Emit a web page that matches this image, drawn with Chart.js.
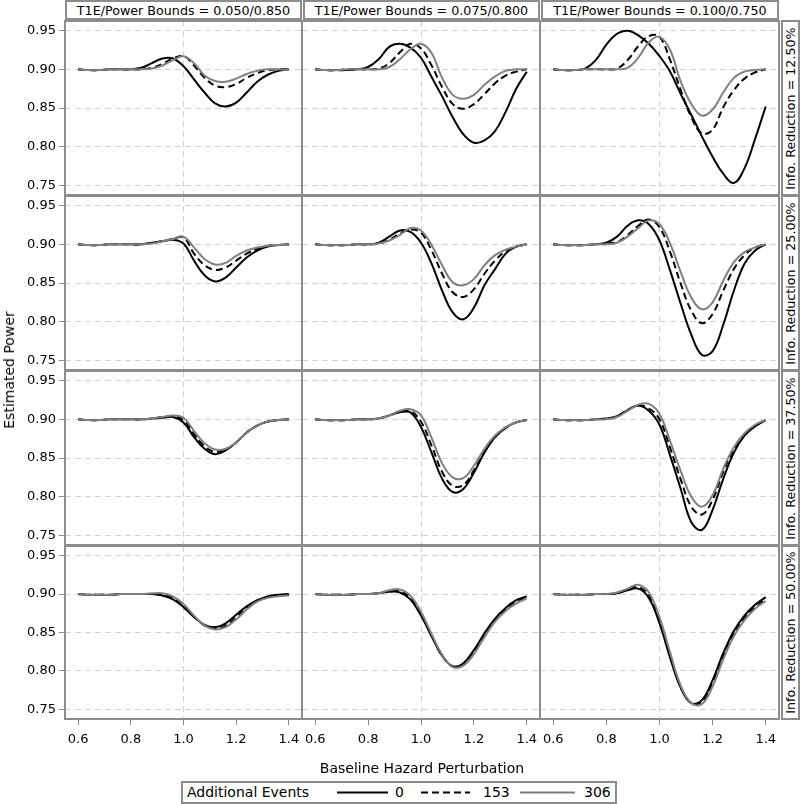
<!DOCTYPE html>
<html><head><meta charset="utf-8">
<script src="https://cdn.jsdelivr.net/npm/chart.js@4.4.1/dist/chart.umd.min.js"></script>
<style>
html,body{margin:0;padding:0;background:#fff;}
#root{position:relative;width:800px;height:804px;overflow:hidden;font-family:"DejaVu Sans",sans-serif;color:#000;}
.strip{position:absolute;box-sizing:border-box;border:2px solid #8c8c8c;background:#fff;font-size:12.7px;display:flex;align-items:center;justify-content:center;white-space:nowrap;overflow:visible;}
.rot{transform:rotate(-90deg);display:block;white-space:nowrap;}
.title{position:absolute;font-size:14px;white-space:nowrap;}
#legend{position:absolute;left:181px;top:781px;width:436px;height:23px;border:2px solid #8c8c8c;box-sizing:border-box;font-size:14px;}
#legend span{position:absolute;top:1px;white-space:nowrap;}
</style></head>
<body><div id="root"></div>
<script>
// ---- data ----
const xs = [0.60,0.64,0.68,0.72,0.76,0.80,0.84,0.88,0.92,0.96,1.00,1.04,1.08,1.12,1.16,1.20,1.24,1.28,1.32,1.36,1.40];
const xTicks = [0.6,0.8,1.0,1.2,1.4];
const yTicks = [0.75,0.80,0.85,0.90,0.95];
const boundLabels = ['T1E/Power Bounds = 0.050/0.850','T1E/Power Bounds = 0.075/0.800','T1E/Power Bounds = 0.100/0.750'];
const reductionLabels = ['Info. Reduction = 12.50%','Info. Reduction = 25.00%','Info. Reduction = 37.50%','Info. Reduction = 50.00%'];
const events = ['0','153','306'];

const r1c1_e0   = [0.900,0.899,0.899,0.900,0.900,0.900,0.902,0.908,0.914,0.914,0.904,0.887,0.870,0.856,0.852,0.857,0.870,0.884,0.893,0.898,0.900];
const r1c1_e153 = [0.900,0.899,0.899,0.900,0.900,0.900,0.900,0.902,0.907,0.914,0.917,0.905,0.889,0.879,0.877,0.881,0.889,0.895,0.899,0.900,0.900];
const r1c1_e306 = [0.900,0.899,0.899,0.900,0.900,0.900,0.900,0.901,0.905,0.912,0.917,0.908,0.892,0.885,0.884,0.888,0.894,0.898,0.900,0.900,0.899];

const r1c2_e0   = [0.900,0.899,0.899,0.899,0.900,0.903,0.913,0.929,0.933,0.928,0.915,0.890,0.865,0.838,0.816,0.805,0.808,0.820,0.845,0.875,0.897];
const r1c2_e153 = [0.900,0.899,0.899,0.900,0.900,0.900,0.901,0.908,0.922,0.933,0.927,0.905,0.877,0.855,0.849,0.855,0.868,0.882,0.892,0.897,0.900];
const r1c2_e306 = [0.900,0.899,0.899,0.900,0.900,0.900,0.900,0.903,0.913,0.926,0.933,0.921,0.889,0.867,0.862,0.867,0.880,0.891,0.898,0.900,0.900];

const r1c3_e0   = [0.900,0.899,0.899,0.901,0.912,0.932,0.946,0.950,0.944,0.933,0.917,0.897,0.868,0.841,0.813,0.787,0.765,0.753,0.772,0.810,0.852];
const r1c3_e153 = [0.900,0.899,0.899,0.900,0.900,0.900,0.901,0.912,0.930,0.943,0.942,0.912,0.873,0.838,0.817,0.822,0.851,0.873,0.888,0.896,0.900];
const r1c3_e306 = [0.900,0.899,0.899,0.900,0.900,0.900,0.900,0.902,0.915,0.935,0.942,0.925,0.884,0.855,0.840,0.848,0.870,0.889,0.897,0.899,0.900];

const r2c1_e0   = [0.900,0.899,0.899,0.900,0.900,0.900,0.900,0.902,0.904,0.906,0.901,0.879,0.860,0.852,0.857,0.870,0.883,0.892,0.897,0.899,0.900];
const r2c1_e153 = [0.900,0.899,0.899,0.900,0.900,0.900,0.900,0.902,0.904,0.907,0.909,0.888,0.873,0.867,0.870,0.879,0.888,0.894,0.898,0.899,0.899];
const r2c1_e306 = [0.900,0.899,0.899,0.900,0.900,0.900,0.900,0.901,0.904,0.907,0.910,0.896,0.881,0.874,0.876,0.885,0.892,0.896,0.898,0.899,0.899];

const r2c2_e0   = [0.900,0.899,0.899,0.899,0.900,0.900,0.902,0.910,0.918,0.916,0.902,0.875,0.840,0.812,0.803,0.818,0.847,0.868,0.888,0.897,0.900];
const r2c2_e153 = [0.900,0.899,0.899,0.899,0.900,0.900,0.901,0.906,0.914,0.919,0.915,0.892,0.862,0.838,0.832,0.842,0.862,0.879,0.891,0.897,0.900];
const r2c2_e306 = [0.900,0.899,0.899,0.899,0.900,0.900,0.901,0.905,0.912,0.921,0.918,0.899,0.873,0.851,0.847,0.855,0.873,0.886,0.893,0.897,0.900];

const r2c3_e0   = [0.900,0.899,0.899,0.899,0.900,0.902,0.910,0.924,0.931,0.926,0.905,0.866,0.823,0.783,0.757,0.762,0.796,0.840,0.875,0.892,0.900];
const r2c3_e153 = [0.900,0.899,0.899,0.899,0.900,0.901,0.903,0.912,0.924,0.932,0.922,0.890,0.849,0.814,0.798,0.810,0.840,0.868,0.886,0.896,0.900];
const r2c3_e306 = [0.900,0.899,0.899,0.899,0.900,0.900,0.902,0.910,0.921,0.931,0.926,0.901,0.864,0.831,0.816,0.825,0.853,0.877,0.890,0.896,0.900];

const r3c1_e0   = [0.900,0.899,0.899,0.900,0.900,0.900,0.900,0.901,0.902,0.903,0.896,0.877,0.862,0.855,0.860,0.870,0.883,0.892,0.897,0.899,0.900];
const r3c1_e153 = [0.900,0.899,0.899,0.900,0.900,0.900,0.900,0.901,0.903,0.904,0.899,0.881,0.865,0.858,0.861,0.870,0.883,0.892,0.897,0.899,0.900];
const r3c1_e306 = [0.900,0.899,0.899,0.900,0.900,0.900,0.900,0.901,0.903,0.905,0.902,0.885,0.869,0.861,0.862,0.870,0.883,0.892,0.897,0.899,0.900];

const r3c2_e0   = [0.900,0.899,0.899,0.899,0.900,0.900,0.901,0.905,0.909,0.909,0.890,0.857,0.823,0.806,0.810,0.831,0.857,0.877,0.889,0.896,0.899];
const r3c2_e153 = [0.900,0.899,0.899,0.899,0.900,0.900,0.901,0.905,0.910,0.911,0.897,0.866,0.832,0.814,0.815,0.834,0.858,0.877,0.889,0.896,0.899];
const r3c2_e306 = [0.900,0.899,0.899,0.899,0.900,0.900,0.901,0.905,0.911,0.913,0.905,0.876,0.843,0.825,0.824,0.840,0.862,0.879,0.890,0.896,0.899];

const r3c3_e0   = [0.900,0.899,0.899,0.899,0.900,0.901,0.904,0.912,0.918,0.911,0.893,0.853,0.810,0.767,0.757,0.783,0.823,0.857,0.879,0.891,0.899];
const r3c3_e153 = [0.900,0.899,0.899,0.899,0.900,0.901,0.904,0.912,0.918,0.914,0.900,0.863,0.822,0.787,0.777,0.796,0.832,0.861,0.880,0.892,0.899];
const r3c3_e306 = [0.900,0.899,0.899,0.899,0.900,0.900,0.903,0.911,0.919,0.920,0.907,0.872,0.833,0.800,0.787,0.802,0.836,0.864,0.882,0.893,0.899];

const r4c1_e0   = [0.900,0.899,0.899,0.899,0.900,0.900,0.900,0.900,0.898,0.893,0.883,0.870,0.860,0.857,0.862,0.873,0.884,0.892,0.897,0.899,0.900];
const r4c1_e153 = [0.900,0.899,0.899,0.899,0.900,0.900,0.900,0.900,0.899,0.895,0.885,0.871,0.859,0.855,0.859,0.870,0.882,0.891,0.896,0.898,0.899];
const r4c1_e306 = [0.900,0.899,0.899,0.899,0.900,0.900,0.900,0.901,0.901,0.897,0.887,0.872,0.859,0.854,0.857,0.867,0.880,0.890,0.895,0.897,0.898];

const r4c2_e0   = [0.900,0.899,0.899,0.899,0.900,0.900,0.901,0.903,0.902,0.893,0.872,0.845,0.820,0.806,0.810,0.827,0.849,0.868,0.882,0.892,0.897];
const r4c2_e153 = [0.900,0.899,0.899,0.899,0.900,0.900,0.901,0.904,0.904,0.895,0.874,0.846,0.820,0.806,0.809,0.825,0.847,0.866,0.880,0.890,0.896];
const r4c2_e306 = [0.900,0.899,0.899,0.899,0.900,0.900,0.901,0.905,0.906,0.898,0.877,0.848,0.821,0.805,0.807,0.822,0.844,0.864,0.878,0.888,0.894];

const r4c3_e0   = [0.900,0.899,0.899,0.899,0.900,0.900,0.901,0.905,0.907,0.895,0.862,0.817,0.778,0.758,0.762,0.788,0.823,0.852,0.872,0.886,0.896];
const r4c3_e153 = [0.900,0.899,0.899,0.899,0.900,0.900,0.901,0.906,0.909,0.898,0.866,0.820,0.779,0.758,0.760,0.785,0.820,0.849,0.869,0.883,0.893];
const r4c3_e306 = [0.900,0.899,0.899,0.899,0.900,0.900,0.902,0.907,0.912,0.902,0.870,0.824,0.781,0.758,0.757,0.780,0.815,0.845,0.866,0.881,0.891];

// table built from the named arrays
const grid = [
  [[r1c1_e0,r1c1_e153,r1c1_e306],[r1c2_e0,r1c2_e153,r1c2_e306],[r1c3_e0,r1c3_e153,r1c3_e306]],
  [[r2c1_e0,r2c1_e153,r2c1_e306],[r2c2_e0,r2c2_e153,r2c2_e306],[r2c3_e0,r2c3_e153,r2c3_e306]],
  [[r3c1_e0,r3c1_e153,r3c1_e306],[r3c2_e0,r3c2_e153,r3c2_e306],[r3c3_e0,r3c3_e153,r3c3_e306]],
  [[r4c1_e0,r4c1_e153,r4c1_e306],[r4c2_e0,r4c2_e153,r4c2_e306],[r4c3_e0,r4c3_e153,r4c3_e306]]
];

// ---- layout ----
const COL_L=[65,302,540], COL_R=[302,540,779];
const ROW_T=[21,196,371,546], ROW_B=[195,370,545,719];
const FRAME='#8c8c8c', GRID='#d2d2d2';
const lineColors=['#000000','#000000','#808080'];
const lineDash=[[],[7,4],[]];
const FONT={family:'DejaVu Sans', size:13};

const root=document.getElementById('root');

const framePlugin={
  id:'frame',
  afterDraw(chart){
    const {ctx, chartArea:a}=chart;
    ctx.save();
    ctx.strokeStyle=FRAME; ctx.lineWidth=2; ctx.setLineDash([]);
    ctx.strokeRect(a.left, a.top, a.right-a.left, a.bottom-a.top);
    ctx.restore();
  }
};

grid.forEach((rowSeries,r)=>rowSeries.forEach((series,c)=>{
  const padL = c===0 ? 65 : 2, padB = r===3 ? 30 : 2;
  const L=COL_L[c], R=COL_R[c], T=ROW_T[r], B=ROW_B[r];
  const W=R-L+padL+2, H=B-T+2+padB;
  const cv=document.createElement('canvas');
  cv.width=W; cv.height=H;
  cv.style.cssText=`position:absolute;left:${L-padL}px;top:${T-2}px;width:${W}px;height:${H}px;`;
  root.appendChild(cv);
  new Chart(cv,{
    type:'line',
    data:{datasets:series.map((arr,k)=>({
      label:events[k],
      data:xs.map((x,i)=>({x:x,y:arr[i]})),
      borderColor:lineColors[k], borderWidth:2, borderDash:lineDash[k],
      pointRadius:0, tension:0.4, fill:false, order:2-k
    }))},
    options:{
      responsive:false, animation:false, devicePixelRatio:1, events:[],
      layout:{padding:{left:c===0?0:2, right:2, top:2, bottom:r===3?0:2}},
      plugins:{legend:{display:false}, tooltip:{enabled:false}},
      scales:{
        x:{type:'linear', min:0.55, max:1.45,
          afterBuildTicks:s=>{s.ticks=xTicks.map(v=>({value:v}));},
          afterFit:s=>{s.height=r===3?30:0; s.paddingLeft=0; s.paddingRight=0;},
          grid:{color:ctx=>(ctx.tick && Math.abs(ctx.tick.value-1)<1e-6)?GRID:'rgba(0,0,0,0)',
                drawTicks:r===3, tickLength:6, tickColor:FRAME, tickWidth:1, lineWidth:1},
          border:{display:false, dash:[6,4]},
          ticks:{display:r===3, padding:7, font:FONT, color:'#000', maxRotation:0, autoSkip:false,
                 callback:v=>Number(v).toFixed(1)}
        },
        y:{type:'linear', min:0.7375, max:0.9625,
          afterBuildTicks:s=>{s.ticks=yTicks.map(v=>({value:v}));},
          afterFit:s=>{s.width=c===0?65:0; s.paddingTop=0; s.paddingBottom=0;},
          grid:{color:GRID, drawTicks:c===0, tickLength:6, tickColor:FRAME, tickWidth:1, lineWidth:1},
          border:{display:false, dash:[6,4]},
          ticks:{display:c===0, padding:3, font:FONT, color:'#000', autoSkip:false,
                 callback:v=>Number(v).toFixed(2)}
        }
      }
    },
    plugins:[framePlugin]
  });
}));

// column header strips
boundLabels.forEach((t,c)=>{
  const d=document.createElement('div');
  d.className='strip';
  const l=COL_L[c]+(c===0?0:1);
  d.style.cssText=`left:${l}px;top:0px;width:${COL_R[c]-l}px;height:20px;`;
  d.textContent=t;
  root.appendChild(d);
});
// row strips
reductionLabels.forEach((t,r)=>{
  const d=document.createElement('div');
  d.className='strip';
  d.style.cssText=`left:781px;top:${ROW_T[r]-1}px;width:19px;height:${ROW_B[r]-ROW_T[r]+2}px;`;
  const s=document.createElement('span'); s.className='rot'; s.textContent=t;
  d.appendChild(s); root.appendChild(d);
});
// axis titles
const yt=document.createElement('div');
yt.className='title';
yt.textContent='Estimated Power';
yt.style.cssText='left:9px;top:370px;transform:translate(-50%,-50%) rotate(-90deg);';
root.appendChild(yt);
const xt=document.createElement('div');
xt.className='title';
xt.textContent='Baseline Hazard Perturbation';
xt.style.cssText='left:422px;top:768px;transform:translate(-50%,-50%);';
root.appendChild(xt);

// legend
const lg=document.createElement('div'); lg.id='legend';
const t0=document.createElement('span'); t0.textContent='Additional Events'; t0.style.left='4px'; lg.appendChild(t0);
const sv=document.createElementNS('http://www.w3.org/2000/svg','svg');
sv.setAttribute('width','432'); sv.setAttribute('height','19');
sv.style.cssText='position:absolute;left:0;top:0;';
const sampleX=[[154,205],[238,287],[337,392]];
const labelX=[212,300,401];
events.forEach((e,k)=>{
  const ln=document.createElementNS('http://www.w3.org/2000/svg','line');
  ln.setAttribute('x1',sampleX[k][0]); ln.setAttribute('x2',sampleX[k][1]);
  ln.setAttribute('y1','9.5'); ln.setAttribute('y2','9.5');
  ln.setAttribute('stroke',lineColors[k]); ln.setAttribute('stroke-width','2');
  if(lineDash[k].length) ln.setAttribute('stroke-dasharray',lineDash[k].join(','));
  sv.appendChild(ln);
  const sp=document.createElement('span'); sp.textContent=e; sp.style.left=labelX[k]+'px'; lg.appendChild(sp);
});
lg.appendChild(sv);
root.appendChild(lg);
</script>
</body></html>
